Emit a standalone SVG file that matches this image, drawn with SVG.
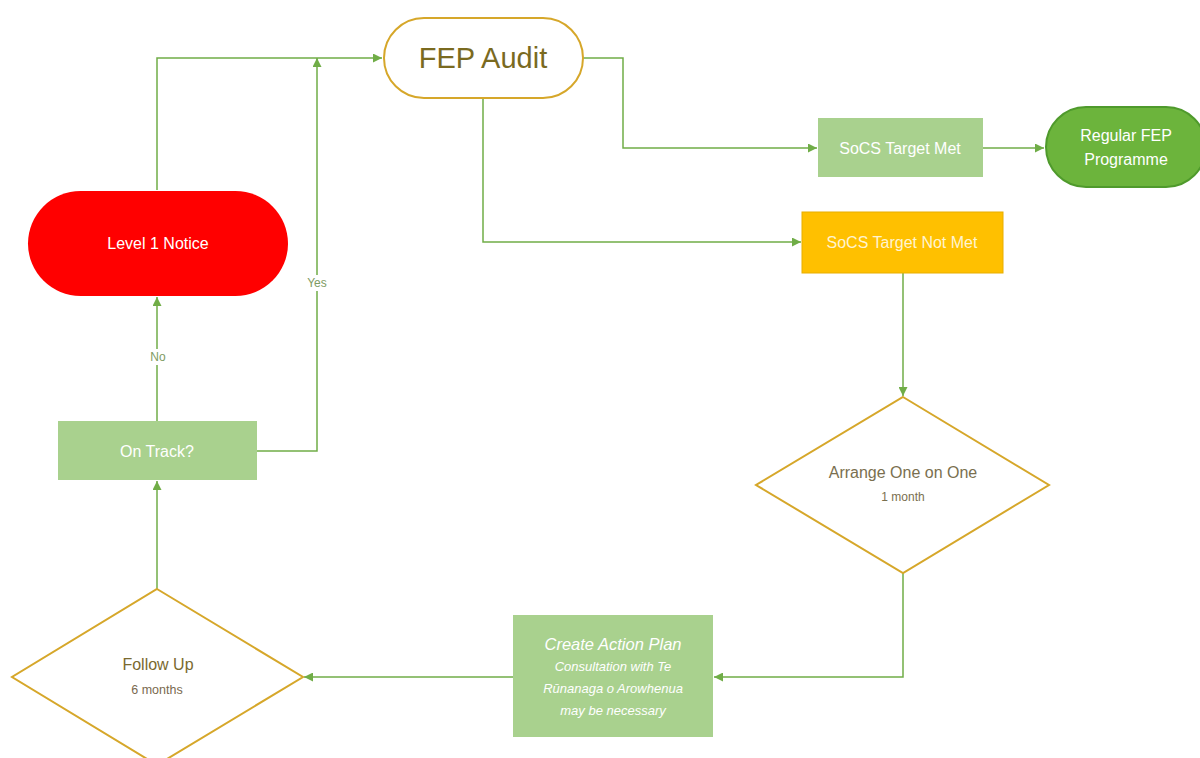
<svg xmlns="http://www.w3.org/2000/svg" width="1200" height="758" viewBox="0 0 1200 758">
<defs>
<marker id="arr" viewBox="0 0 10 10" refX="10" refY="5" markerWidth="10" markerHeight="9" orient="auto" markerUnits="userSpaceOnUse">
<path d="M0,0 L10,5 L0,10 z" fill="#70AD47"/>
</marker>
<style>
.c{fill:none;stroke:#70AD47;stroke-width:1.5}
.t{font-family:"Liberation Sans",Arial,sans-serif;text-anchor:middle}
.w{fill:#FFFFFF}
.gbox{fill:#A9D18E}
.dia{fill:#FFFFFF;stroke:#D6A72A;stroke-width:2}
.lbl{font-family:"Liberation Sans",Arial,sans-serif;font-size:12px;fill:#7E9B63;text-anchor:middle}
</style>
</defs>
<rect width="1200" height="758" fill="#FFFFFF"/>
<g id="connectors">
<path class="c" d="M583,58 H623 V148 H817" marker-end="url(#arr)"/>
<path class="c" d="M983,148 H1044" marker-end="url(#arr)"/>
<path class="c" d="M483,98 V242 H801" marker-end="url(#arr)"/>
<path class="c" d="M903,273 V396" marker-end="url(#arr)"/>
<path class="c" d="M903,573 V677 H714" marker-end="url(#arr)"/>
<path class="c" d="M513,677 H304" marker-end="url(#arr)"/>
<path class="c" d="M157,589 V481" marker-end="url(#arr)"/>
<path class="c" d="M157,421 V297" marker-end="url(#arr)"/>
<path class="c" d="M257,451 H317 V58" marker-end="url(#arr)"/>
<path class="c" d="M157,190 V58 H382" marker-end="url(#arr)"/>
<rect x="303" y="275" width="28" height="16" fill="#FFFFFF"/>
<text class="lbl" x="317" y="287">Yes</text>
<rect x="146" y="349" width="24" height="16" fill="#FFFFFF"/>
<text class="lbl" x="158" y="361">No</text>
</g>
<g id="fep-audit">
<rect x="384" y="18" width="199" height="80" rx="40" fill="#FFFFFF" stroke="#D6A72A" stroke-width="2"/>
<text class="t" x="483" y="68" font-size="29" fill="#7A6A1F">FEP Audit</text>
</g>
<g id="socs-met">
<rect class="gbox" x="818" y="118" width="165" height="59"/>
<text class="t w" x="900" y="154" font-size="16">SoCS Target Met</text>
</g>
<g id="regular-fep">
<rect x="1046" y="107" width="160" height="80" rx="40" fill="#6CB43C" stroke="#4F9A2C" stroke-width="2"/>
<text class="t w" x="1126" y="141" font-size="16">Regular FEP</text>
<text class="t w" x="1126" y="165" font-size="16">Programme</text>
</g>
<g id="socs-not-met">
<rect x="802" y="212" width="201" height="61" fill="#FFC000" stroke="#E8AE00" stroke-width="1"/>
<text class="t" x="902" y="248" font-size="16" fill="#FFF4D0">SoCS Target Not Met</text>
</g>
<g id="arrange">
<polygon class="dia" points="903,397 1049,485 903,573 756,485"/>
<text class="t" x="903" y="478" font-size="16" fill="#7A6F4F">Arrange One on One</text>
<text class="t" x="903" y="501" font-size="12" fill="#7A6F4F">1 month</text>
</g>
<g id="action-plan">
<rect class="gbox" x="513" y="615" width="200" height="122"/>
<text class="t w" x="613" y="650" font-size="16.5" font-style="italic">Create Action Plan</text>
<text class="t w" x="613" y="671" font-size="13" font-style="italic">Consultation with Te</text>
<text class="t w" x="613" y="693" font-size="13" font-style="italic">Rūnanaga o Arowhenua</text>
<text class="t w" x="613" y="715" font-size="13" font-style="italic">may be necessary</text>
</g>
<g id="follow-up">
<polygon class="dia" points="157,589 303,677 157,765 12,677"/>
<text class="t" x="158" y="670" font-size="16" fill="#7A6A2F">Follow Up</text>
<text class="t" x="157" y="694" font-size="12.5" fill="#7A6A4F">6 months</text>
</g>
<g id="on-track">
<rect class="gbox" x="58" y="421" width="199" height="59"/>
<text class="t w" x="157" y="457" font-size="16">On Track?</text>
</g>
<g id="level1">
<rect x="28" y="191" width="260" height="105" rx="52.5" fill="#FF0000"/>
<text class="t w" x="158" y="249" font-size="16">Level 1 Notice</text>
</g>
</svg>
